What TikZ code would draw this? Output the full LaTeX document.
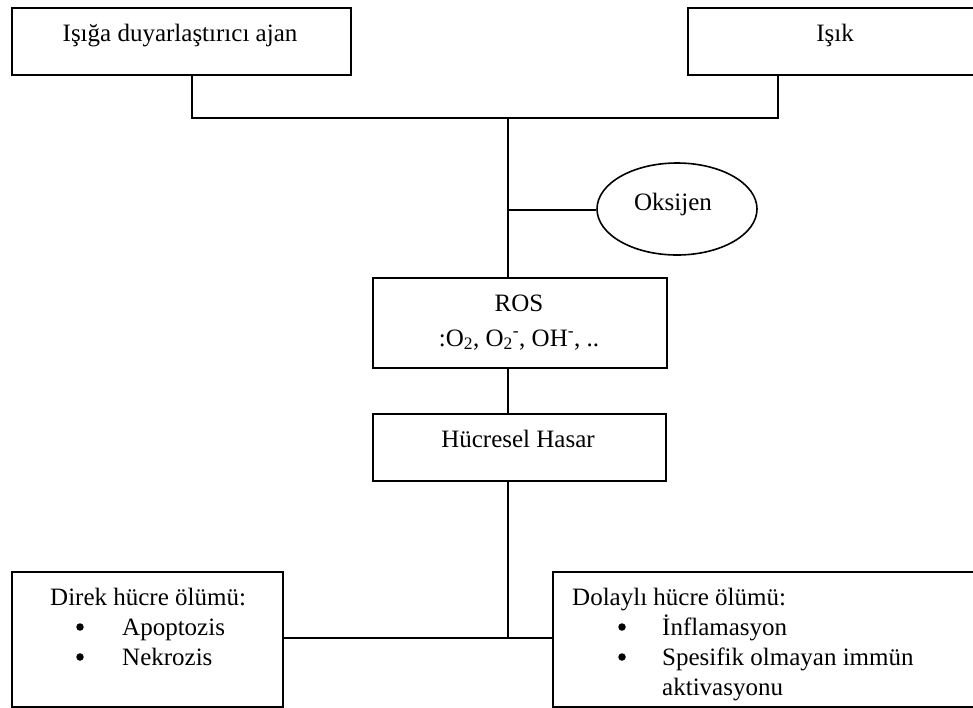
\documentclass[tikz,border=0pt]{standalone}
\usepackage{fontspec}
\setmainfont{Liberation Serif}
\usetikzlibrary{shapes.geometric}
\begin{document}
\begin{tikzpicture}[x=1pt,y=-1pt,
  every node/.style={font=\fontsize{25}{29}\selectfont, inner sep=0pt},
  boxshape/.style={draw, line width=1.8pt, rectangle, anchor=north west},
  conn/.style={line width=1.6pt},
  bul/.style={circle, fill, minimum size=7.5pt},
  lbl/.style={anchor=base}]
\useasboundingbox (0,0) rectangle (973,707);
% boxes
\node[boxshape, minimum width=339pt, minimum height=67pt] (b1) at (11,7) {};
\node[boxshape, minimum width=300pt, minimum height=67pt] (b2) at (687,7) {};
\node[boxshape, minimum width=294pt, minimum height=90pt] (ros) at (372,277) {};
\node[boxshape, minimum width=293pt, minimum height=67pt] (hh) at (372,413) {};
\node[boxshape, minimum width=271pt, minimum height=135pt] (bl) at (11,571) {};
\node[boxshape, minimum width=430pt, minimum height=135pt] (br) at (552,571) {};
\node[draw, ellipse, line width=1.6pt, minimum width=160pt, minimum height=92pt] (ox) at (677,209) {};
% texts
\node[lbl] (t1) at (180,41) {Işığa duyarlaştırıcı ajan};
\node[lbl] (t2) at (835,41) {Işık};
\node[lbl] (tox) at (673,210) {Oksijen};
\node[lbl] (tros) at (519,311) {ROS};
\node[lbl] (tros2) at (519,346) {:O\textsubscript{2}, O\textsubscript{2}\textsuperscript{-}, OH\textsuperscript{-}, ..};
\node[lbl] (thh) at (518,447) {Hücresel Hasar};
\node[anchor=base west] (tl0) at (50,605) {Direk hücre ölümü:};
\node[bul] (tl1b) at (80,627) {};
\node[anchor=base west] (tl1) at (122,635) {Apoptozis};
\node[bul] (tl2b) at (80,657) {};
\node[anchor=base west] (tl2) at (122,665) {Nekrozis};
\node[anchor=base west] (tr0) at (572,605) {Dolaylı hücre ölümü:};
\node[bul] (tr1b) at (622,627) {};
\node[anchor=base west] (tr1) at (662,635) {İnflamasyon};
\node[bul] (tr2b) at (622,657) {};
\node[anchor=base west] (tr2) at (662,665) {Spesifik olmayan immün};
\node[anchor=base west] (tr3) at (662,695) {aktivasyonu};
% connectors
\coordinate (j1) at (192,118);
\coordinate (j2) at (778,118);
\coordinate (jm) at (508,118);
\coordinate (jo) at (508,210);
\coordinate (jb) at (508,638);
\draw[conn] (b1.south west -| j1) -- (j1) -- (j2) -- (b2.south west -| j2);
\draw[conn] (jm) -- (ros.north west -| jm);
\draw[conn] (jo) -- (ox.west |- jo);
\draw[conn] (ros.south west -| jm) -- (hh.north west -| jm);
\draw[conn] (hh.south west -| jm) -- (jb);
\draw[conn] (bl.east |- jb) -- (br.west |- jb);
\end{tikzpicture}
\end{document}
